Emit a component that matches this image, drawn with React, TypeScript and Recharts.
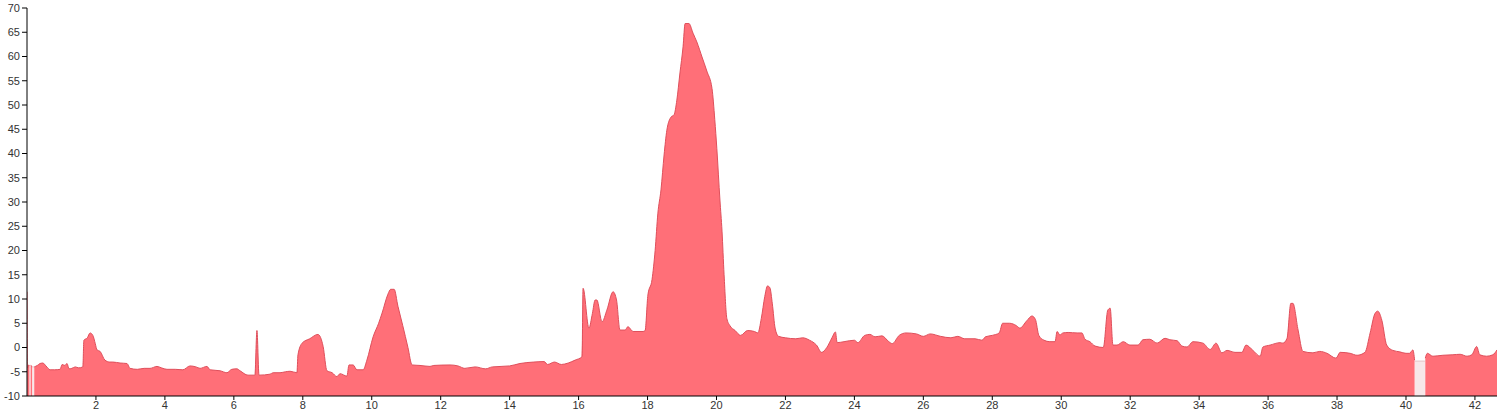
import { AreaChart, Area, XAxis, YAxis } from 'recharts';

// distance (km) / elevation pairs
const KM = [
  0, 0.01, 0.05, 0.07, 0.105, 0.15, 0.21, 0.3, 0.38, 0.46, 0.55, 0.67, 0.8, 0.96, 1.02, 1.1, 1.16, 1.22, 1.3, 1.4,
  1.5, 1.62, 1.65, 1.75, 1.83, 1.91, 1.98, 2.03, 2.12, 2.26, 2.4, 2.49, 2.7, 2.9, 2.99, 3.2, 3.4, 3.57, 3.77, 3.9,
  4.06, 4.3, 4.52, 4.73, 4.9, 5.02, 5.22, 5.31, 5.6, 5.8, 5.94, 6.09, 6.18, 6.41, 6.61, 6.67, 6.73, 7.05, 7.14, 7.34,
  7.5, 7.63, 7.83, 7.86, 7.98, 8.2, 8.44, 8.59, 8.7, 8.85, 8.99, 9.08, 9.28, 9.34, 9.46, 9.57, 9.75, 9.86, 10.04, 10.2,
  10.3, 10.47, 10.55, 10.65, 10.76, 10.9, 11.05, 11.17, 11.4, 11.69, 11.8, 12.27, 12.5, 12.7, 13.0, 13.3, 13.5, 14.0, 14.3, 14.7,
  15.0, 15.1, 15.3, 15.5, 15.7, 15.9, 16.1, 16.13, 16.3, 16.4, 16.48, 16.53, 16.68, 16.82, 17.0, 17.1, 17.2, 17.35, 17.43, 17.58,
  17.87, 17.93, 18.01, 18.13, 18.22, 18.3, 18.39, 18.48, 18.56, 18.68, 18.77, 18.85, 18.94, 19.03, 19.09, 19.2, 19.32, 19.43, 19.58, 19.72,
  19.87, 19.95, 20.01, 20.1, 20.16, 20.22, 20.3, 20.39, 20.54, 20.7, 20.9, 21.1, 21.2, 21.3, 21.4, 21.48, 21.55, 21.62, 21.7, 21.8,
  22.0, 22.3, 22.5, 22.7, 22.9, 23.05, 23.2, 23.35, 23.45, 23.5, 23.7, 24.0, 24.1, 24.3, 24.45, 24.6, 24.8, 25.0, 25.1, 25.3,
  25.5, 25.8, 26.0, 26.2, 26.5, 26.8, 27.0, 27.2, 27.5, 27.7, 27.8, 28.0, 28.2, 28.3, 28.5, 28.7, 28.8, 29.0, 29.15, 29.25,
  29.35, 29.5, 29.67, 29.82, 29.88, 29.96, 30.05, 30.2, 30.46, 30.6, 30.69, 30.83, 30.98, 31.22, 31.35, 31.42, 31.5, 31.62, 31.8, 31.99,
  32.23, 32.37, 32.57, 32.78, 33.01, 33.15, 33.36, 33.5, 33.65, 33.82, 34.11, 34.32, 34.49, 34.66, 34.81, 35.04, 35.24, 35.36, 35.56, 35.77,
  35.85, 36.06, 36.35, 36.43, 36.55, 36.66, 36.72, 36.87, 37.01, 37.3, 37.5, 37.71, 37.97, 38.09, 38.38, 38.58, 38.81, 38.96, 39.1, 39.18,
  39.3, 39.44, 39.62, 39.82, 40.0, 40.1, 40.2, 40.25, 40.56, 40.62, 40.78, 41.07, 41.36, 41.57, 41.77, 41.91, 42.05, 42.14, 42.34, 42.52,
  42.64,
];

const ELEV = [
  11.5, -4.2, -3.6, -3.8, -3.7, -3.9, -4.0, -3.7, -3.3, -3.2, -3.8, -4.6, -4.6, -4.5, -3.5, -3.7, -3.3, -4.4, -4.3, -4.0,
  -4.2, -4.0, 1.5, 2.0, 3.0, 2.5, 0.8, -0.5, -0.8, -2.6, -3.0, -3.0, -3.2, -3.3, -4.3, -4.5, -4.3, -4.3, -3.9, -4.2,
  -4.5, -4.5, -4.6, -3.8, -4.0, -4.3, -3.9, -4.6, -4.8, -5.2, -4.5, -4.4, -4.8, -5.7, -5.7, 3.5, -5.7, -5.5, -5.2, -5.2,
  -5.0, -4.9, -5.2, -1.5, 0.9, 1.8, 2.7, 0.2, -4.8, -5.2, -6.0, -5.4, -5.9, -3.6, -3.6, -4.6, -4.6, -2.6, 2.2, 5.0,
  7.1, 11.0, 12.0, 12.0, 8.5, 4.5, 0, -3.6, -3.7, -3.9, -3.7, -3.6, -3.8, -4.3, -4.0, -4.4, -4.0, -3.8, -3.3, -3.0,
  -2.9, -3.5, -3.0, -3.5, -3.2, -2.6, -1.9, 12.2, 4.0, 7.0, 9.8, 9.8, 5.3, 7.7, 11.5, 9.8, 3.6, 3.6, 4.3, 3.3,
  3.3, 3.5, 10.8, 14, 20, 27.7, 32.5, 39.7, 44.8, 47.5, 48, 51, 56.6, 62, 66.8, 66.8, 64.8, 63, 59.9, 57,
  53.4, 47, 41, 30.4, 24, 15, 6, 4.5, 3.5, 2.5, 3.5, 3.3, 3.0, 6, 10.5, 12.7, 12.3, 9, 4, 2.3,
  2.0, 1.8, 2.0, 1.5, 0.5, -1.0, 0, 2, 3.2, 1.0, 1.2, 1.5, 1.0, 2.5, 2.7, 2.2, 2.4, 1.2, 0.8, 2.5,
  3.0, 2.8, 2.3, 2.8, 2.3, 2.0, 2.3, 1.8, 1.8, 1.5, 2.2, 2.5, 3.0, 5.0, 5.0, 4.5, 4.0, 5.5, 6.5, 5.8,
  2.5, 1.5, 1.2, 1.2, 3.3, 2.6, 3.0, 3.1, 3.0, 3.0, 1.7, 1.2, 0.3, 0, 7.7, 8.1, 0.5, 0.5, 1.2, 0.5,
  0.5, 1.6, 1.7, 0.9, 1.9, 1.6, 1.4, 0.3, 0.1, 1.2, 0.9, -0.4, 0.9, -1.1, -0.6, -1.0, -1.0, 0.5, -0.6, -1.8,
  0.1, 0.5, 1.0, 0.9, 1.9, 9.1, 9.1, 3.6, -0.8, -1.1, -0.8, -1.2, -2.2, -1.0, -1.2, -1.6, -1.0, 3.0, 7.0, 7.5,
  5.6, 0.5, -0.6, -0.9, -1.2, -1.2, -0.5, -2.6, -2.2, -1.2, -1.8, -1.6, -1.5, -1.4, -1.8, -1.5, 0.2, -1.5, -1.8, -1.5,
  -0.5,
];

// short stretches with no recorded track, drawn in pale pink
const GAP_KM = [0.075, 0.1, 0.16, 0.2, 40.26, 40.55];
const GAP_ELEV = [-4.0, -4.0, -4.0, -4.0, -2.8, -2.8];

const X_TICKS = [2, 4, 6, 8, 10, 12, 14, 16, 18, 20, 22, 24, 26, 28, 30, 32, 34, 36, 38, 40, 42];
const Y_TICKS = [-10, -5, 0, 5, 10, 15, 20, 25, 30, 35, 40, 45, 50, 55, 60, 65, 70];

type Row = { km: number; elev: number | null; gap: number | null };

const data: Row[] = [
  ...KM.map((km, i) => ({ km, elev: ELEV[i], gap: null })),
  ...GAP_KM.map((km, i) => ({ km, elev: null, gap: GAP_ELEV[i] })),
].sort((a, b) => a.km - b.km);

const tickStyle = { fill: '#333', fontSize: 11, fontFamily: 'Liberation Sans, Arial, sans-serif' };

export default function App() {
  return (
    <div style={{ position: 'absolute', left: 0, top: 0, background: '#fff' }}>
      <AreaChart width={1500} height={413} data={data} margin={{ top: 8, right: 3, bottom: 0, left: 0 }}>
        <XAxis
          dataKey="km"
          type="number"
          domain={[0, 42.64]}
          ticks={X_TICKS}
          allowDataOverflow
          height={17}
          tick={tickStyle}
          tickSize={4}
          tickMargin={1}
          stroke="#000"
        />
        <YAxis
          type="number"
          domain={[-10, 70]}
          ticks={Y_TICKS}
          width={27}
          tick={tickStyle}
          tickSize={5}
          tickMargin={2}
          stroke="#000"
          interval={0}
        />
        <Area
          dataKey="gap"
          type="linear"
          baseValue={-10}
          fill="#f7e7e9"
          fillOpacity={1}
          stroke="#e3c3c7"
          strokeWidth={1}
          dot={false}
          activeDot={false}
          isAnimationActive={false}
        />
        <Area
          dataKey="elev"
          type="monotone"
          baseValue={-10}
          fill="#ff6f78"
          fillOpacity={1}
          stroke="#df4f5b"
          strokeWidth={1}
          dot={false}
          activeDot={false}
          isAnimationActive={false}
        />
      </AreaChart>
    </div>
  );
}
